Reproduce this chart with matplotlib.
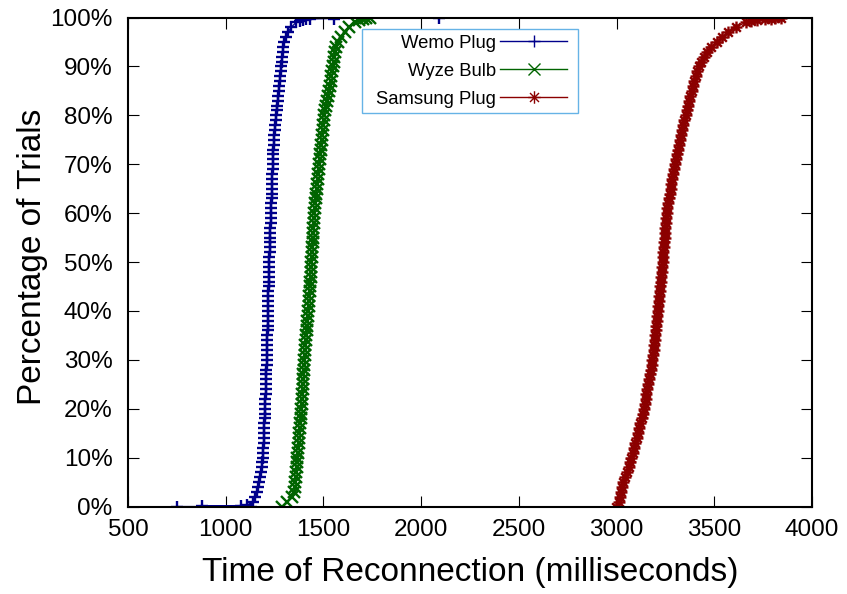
import matplotlib
matplotlib.use("Agg")
import matplotlib.pyplot as plt
from matplotlib.path import Path
from matplotlib.patches import Rectangle
from matplotlib.ticker import FuncFormatter

plt.rcParams['font.family'] = ['Liberation Sans', 'DejaVu Sans']

# Percent levels (1% steps) at which the reconnection times are read
niveles = list(range(0, 101))

# Wemo Plug: reconnection time (ms) at each percent level
wemo_ms = [1128, 1140, 1150, 1158, 1165, 1171, 1176, 1180, 1184, 1187,
           1189, 1191, 1193, 1194, 1195, 1196, 1197, 1198, 1199, 1200,
           1201, 1202, 1203, 1204, 1205, 1206, 1206, 1207, 1208, 1209,
           1210, 1211, 1212, 1212, 1213, 1213, 1214, 1214, 1215, 1215,
           1216, 1217, 1217, 1218, 1218, 1219, 1220, 1221, 1222, 1222,
           1223, 1224, 1225, 1226, 1227, 1228, 1228, 1229, 1230, 1231,
           1232, 1233, 1234, 1235, 1236, 1237, 1237, 1238, 1239, 1240,
           1241, 1242, 1243, 1244, 1246, 1247, 1249, 1251, 1253, 1256,
           1259, 1262, 1264, 1267, 1270, 1272, 1275, 1277, 1280, 1283,
           1285, 1288, 1290, 1293, 1295, 1300, 1308, 1319, 1335, 1360,
           2092]
# outliers at both ends
wemo_bajo_ms = [751, 879, 1079, 1110]
wemo_bajo_pct = [0.0, 0.1, 0.2, 0.3]
wemo_alto_ms = [1380, 1395, 1410, 1432, 1555]
wemo_alto_pct = [99.3, 99.5, 99.6, 99.7, 99.8]

# Wyze Bulb
wyze_ms = [1289, 1316, 1338, 1350, 1355, 1357, 1359, 1361, 1363, 1365,
           1367, 1369, 1371, 1373, 1375, 1377, 1379, 1381, 1383, 1385,
           1387, 1388, 1390, 1392, 1393, 1395, 1397, 1398, 1400, 1402,
           1403, 1405, 1406, 1408, 1410, 1412, 1414, 1416, 1418, 1420,
           1422, 1424, 1426, 1428, 1430, 1431, 1433, 1434, 1436, 1437,
           1439, 1440, 1442, 1443, 1445, 1446, 1448, 1449, 1451, 1452,
           1454, 1456, 1459, 1461, 1463, 1466, 1468, 1471, 1473, 1476,
           1478, 1481, 1483, 1486, 1488, 1491, 1493, 1496, 1498, 1501,
           1504, 1508, 1513, 1518, 1523, 1528, 1533, 1538, 1541, 1545,
           1549, 1552, 1556, 1559, 1563, 1575, 1592, 1611, 1633, 1662,
           1739]
wyze_alto_ms = [1680, 1700, 1720]
wyze_alto_pct = [99.4, 99.7, 99.9]

# Samsung Plug
samsung_ms = [2995, 3010, 3018, 3024, 3028, 3034, 3044, 3053, 3061, 3069,
              3076, 3083, 3089, 3096, 3103, 3109, 3115, 3121, 3128, 3133,
              3138, 3143, 3148, 3153, 3158, 3163, 3167, 3171, 3175, 3179,
              3183, 3187, 3190, 3193, 3195, 3198, 3200, 3203, 3205, 3208,
              3210, 3213, 3215, 3218, 3220, 3223, 3225, 3228, 3230, 3233,
              3236, 3238, 3240, 3242, 3244, 3246, 3248, 3250, 3252, 3255,
              3257, 3260, 3264, 3268, 3272, 3276, 3280, 3285, 3290, 3295,
              3300, 3305, 3310, 3315, 3320, 3325, 3330, 3335, 3341, 3347,
              3353, 3359, 3365, 3371, 3378, 3384, 3391, 3398, 3405, 3413,
              3422, 3432, 3447, 3465, 3485, 3512, 3540, 3572, 3610, 3660,
              3840]
samsung_alto_ms = [3690, 3720, 3760, 3790, 3810]
samsung_alto_pct = [99.3, 99.5, 99.7, 99.8, 99.9]


def juntar(ms, pct, extra_ms, extra_pct):
    pares = sorted(zip(list(ms) + list(extra_ms), list(pct) + list(extra_pct)),
                   key=lambda p: (p[1], p[0]))
    return [p[0] for p in pares], [p[1] for p in pares]


wemo_x, wemo_y = juntar(wemo_ms, niveles, wemo_bajo_ms + wemo_alto_ms,
                        wemo_bajo_pct + wemo_alto_pct)
wyze_x, wyze_y = juntar(wyze_ms, niveles, wyze_alto_ms, wyze_alto_pct)
samsung_x, samsung_y = juntar(samsung_ms, niveles, samsung_alto_ms, samsung_alto_pct)

# gnuplot-style asterisk marker: a plus and a cross together
estrella = Path([(-1, 0), (1, 0), (0, -1), (0, 1),
                 (-0.72, -0.72), (0.72, 0.72), (-0.72, 0.72), (0.72, -0.72)],
                [Path.MOVETO, Path.LINETO] * 4)

fig = plt.figure(figsize=(8.47, 5.94), dpi=100)
ax = fig.add_axes([0.1511, 0.1473, 0.8076, 0.8232])

estilo = dict(linewidth=0.9, markersize=8.6, markeredgewidth=1.7,
              markerfacecolor='none')
ax.plot(wemo_x, wemo_y, color='#00008b', marker='+', label='Wemo Plug', **estilo)
ax.plot(wyze_x, wyze_y, color='#006400', marker='x', label='Wyze Bulb', **estilo)
ax.plot(samsung_x, samsung_y, color='#8b0000', marker=estrella,
        label='Samsung Plug', **estilo)

ax.set_xlim(500, 4000)
ax.set_ylim(0, 100)
ax.set_xticks(range(500, 4001, 500))
ax.set_yticks(range(0, 101, 10))
ax.yaxis.set_major_formatter(FuncFormatter(lambda v, p: f'{int(v)}%'))

ax.tick_params(direction='in', length=8, width=0.8, top=True, right=True,
               labelsize=17.5, colors='black')
ax.tick_params(axis='x', pad=9)
ax.tick_params(axis='y', pad=11)
for lado in ax.spines.values():
    lado.set_linewidth(1.5)

ax.set_xlabel('Time of Reconnection (milliseconds)', fontsize=24, va='center')
ax.xaxis.set_label_coords(0.5, -0.134)
ax.set_ylabel('Percentage of Trials', fontsize=24, va='center')
ax.yaxis.set_label_coords(-0.140, 0.51)

# key: white box with a light blue border, entries right-aligned against the samples
caja = Rectangle((0.342, 0.805), 0.316, 0.1715, transform=ax.transAxes,
                 facecolor='white', edgecolor='#66b3e6', linewidth=1.0, zorder=5)
ax.add_patch(caja)
estilo_leyenda = dict(linewidth=1.0, markersize=9, markeredgewidth=1.0)
manejadores = [plt.Line2D([], [], color='#00008b', marker='+', **estilo_leyenda),
               plt.Line2D([], [], color='#006400', marker='x', **estilo_leyenda),
               plt.Line2D([], [], color='#8b0000', marker=estrella, **estilo_leyenda)]
leyenda = ax.legend(manejadores, ['Wemo Plug', 'Wyze Bulb', 'Samsung Plug'],
                    loc='upper right', bbox_to_anchor=(0.6418, 0.9652),
                    markerfirst=False, fontsize=13.3, handlelength=3.6,
                    handletextpad=0.25, labelspacing=0.6, borderpad=0,
                    borderaxespad=0, frameon=False)
leyenda.set_zorder(6)

fig.savefig('out.png', dpi=100)
